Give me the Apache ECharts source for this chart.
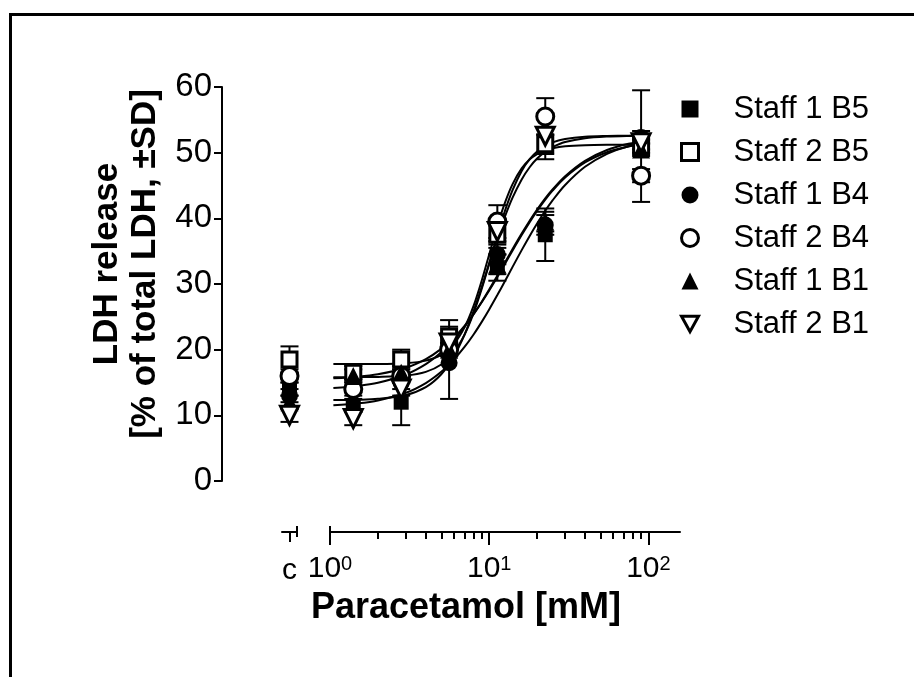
<!DOCTYPE html>
<html>
<head>
<meta charset="utf-8">
<script src="https://cdn.jsdelivr.net/npm/echarts@6/dist/echarts.min.js"></script>
<style>
  html, body { margin: 0; padding: 0; background: #fff; }
  #chart { width: 914px; height: 677px; }
</style>
</head>
<body>
<div id="chart"></div>
<script>
  // concentrations (mM) of the dilution series, plus the control column "c"
  const conc = [1.4, 2.8, 5.6, 11.25, 22.5, 90];
  const ctrlX = 0.5;

  // mean LDH release (% of total) and SD per donor/batch
  const s1b5 = [11.5, 12, 21, 32.5, 37.5, 51];
  const sd1b5 = [1, 3.5, 1.5, 2, 4, 8.5];
  const s2b5 = [16.5, 18.5, 22, 37.5, 51.3, 51];
  const sd2b5 = [1, 1.5, 2.5, 2, 1.5, 1];
  const s1b4 = [14.5, 15, 18, 34.5, 39, 52.3];
  const sd1b4 = [1, 1, 5.5, 1.5, 1.5, 1];
  const s2b4 = [14, 16, 20, 39.5, 55.5, 46.5];
  const sd2b4 = [1, 1, 1, 2.5, 2.8, 1];
  const s1b1 = [16, 16.5, 20, 33, 39.5, 50.5];
  const sd1b1 = [1, 1, 1, 1.5, 1.5, 1];
  const s2b1 = [9.5, 14, 21, 38, 52.5, 51.5];
  const sd2b1 = [1, 1, 1, 1.5, 3.5, 1];

  // control values, same series order as the legend
  const ctrlVals = [14, 18.5, 13, 16, 12, 10];
  const ctrlSd = [1, 2, 1, 1, 1, 1];

  // fitted curves
  const fitX = [1.05, 1.5, 2, 3, 4, 5, 6, 7, 8, 9, 10, 11.25, 12.5, 14, 16, 18, 20, 22.5, 25, 30, 40, 55, 75, 100];
  const fit1b5 = [11.52, 11.83, 12.27, 13.44, 14.92, 16.63, 18.49, 20.41, 22.35, 24.27, 26.12, 28.31, 30.34, 32.57, 35.16, 37.36, 39.22, 41.15, 42.73, 45.08, 47.85, 49.83, 50.97, 51.6];
  const fit2b5 = [17.8, 17.81, 17.82, 17.95, 18.33, 19.22, 20.85, 23.39, 26.75, 30.61, 34.5, 38.82, 42.24, 45.18, 47.61, 48.99, 49.79, 50.35, 50.67, 50.96, 51.13, 51.19, 51.2, 51.2];
  const fit1b4 = [14.15, 14.48, 14.96, 16.22, 17.79, 19.59, 21.51, 23.48, 25.43, 27.33, 29.15, 31.27, 33.2, 35.28, 37.67, 39.67, 41.33, 43.03, 44.4, 46.42, 48.76, 50.41, 51.35, 51.87];
  const fit2b4 = [15.8, 15.82, 15.85, 16.06, 16.62, 17.74, 19.6, 22.27, 25.62, 29.35, 33.12, 37.42, 40.99, 44.26, 47.21, 49.04, 50.18, 51.05, 51.57, 52.09, 52.44, 52.55, 52.59, 52.6];
  const fit1b1 = [15.64, 15.88, 16.25, 17.25, 18.57, 20.12, 21.83, 23.63, 25.45, 27.26, 29.01, 31.07, 32.98, 35.06, 37.45, 39.46, 41.13, 42.84, 44.21, 46.21, 48.5, 50.06, 50.93, 51.39];
  const fit2b1 = [12.33, 12.38, 12.51, 13.1, 14.29, 16.25, 18.96, 22.29, 25.94, 29.63, 33.12, 36.96, 40.13, 43.11, 45.93, 47.82, 49.1, 50.16, 50.85, 51.62, 52.21, 52.46, 52.55, 52.58];

  const xMajor = [1, 10, 100];
  const xMinor = [2, 3, 4, 5, 6, 7, 8, 9, 20, 30, 40, 50, 60, 70, 80, 90];

  const FONT = '"Liberation Sans", Arial, sans-serif';
  const invTri = 'path://M0,0L20,0L10,18Z';

  const groups = [
    { name: 'Staff 1 B5', symbol: 'rect', size: 15, open: false, y: s1b5, sd: sd1b5, fit: fit1b5 },
    { name: 'Staff 2 B5', symbol: 'rect', size: 15, open: true, y: s2b5, sd: sd2b5, fit: fit2b5 },
    { name: 'Staff 1 B4', symbol: 'circle', size: 17, open: false, y: s1b4, sd: sd1b4, fit: fit1b4 },
    { name: 'Staff 2 B4', symbol: 'circle', size: 17, open: true, y: s2b4, sd: sd2b4, fit: fit2b4 },
    { name: 'Staff 1 B1', symbol: 'triangle', size: 18, open: false, y: s1b1, sd: sd1b1, fit: fit1b1 },
    { name: 'Staff 2 B1', symbol: invTri, size: 18, open: true, y: s2b1, sd: sd2b1, fit: fit2b1 }
  ];

  function markStyle(g) {
    return g.open
      ? { color: '#fff', borderColor: '#000', borderWidth: 3, opacity: 1 }
      : { color: '#000', borderColor: '#000', borderWidth: 0, opacity: 1 };
  }

  function errorBar(params, api) {
    const x = api.value(0), y = api.value(1), e = api.value(2);
    const hi = api.coord([x, y + e]);
    const lo = api.coord([x, y - e]);
    const w = 9;
    const st = { stroke: '#000', lineWidth: 2 };
    return {
      type: 'group',
      children: [
        { type: 'line', shape: { x1: hi[0], y1: hi[1], x2: lo[0], y2: lo[1] }, style: st },
        { type: 'line', shape: { x1: hi[0] - w, y1: hi[1], x2: hi[0] + w, y2: hi[1] }, style: st },
        { type: 'line', shape: { x1: lo[0] - w, y1: lo[1], x2: lo[0] + w, y2: lo[1] }, style: st }
      ]
    };
  }

  const series = [];
  // fit curves first (underneath)
  groups.forEach((g, i) => {
    series.push({
      name: 'fit' + i, type: 'line', xAxisIndex: 0, yAxisIndex: 0,
      data: fitX.map((x, k) => [x, g.fit[k]]),
      showSymbol: false, symbol: 'none', smooth: 0.3,
      lineStyle: { color: '#000', width: 2 }, silent: true, z: 2
    });
  });
  groups.forEach((g, i) => {
    series.push({
      name: 'eb' + i, type: 'custom', xAxisIndex: 0, yAxisIndex: 0,
      data: conc.map((x, k) => [x, g.y[k], g.sd[k]]),
      renderItem: errorBar, silent: true, z: 3
    });
    series.push({
      name: 'ebc' + i, type: 'custom', xAxisIndex: 2, yAxisIndex: 1,
      data: [[ctrlX, ctrlVals[i], ctrlSd[i]]],
      renderItem: errorBar, silent: true, z: 3
    });
  });
  groups.forEach((g, i) => {
    series.push({
      name: g.name, type: 'scatter', xAxisIndex: 0, yAxisIndex: 0,
      data: conc.map((x, k) => [x, g.y[k]]),
      symbol: g.symbol, symbolSize: g.size, itemStyle: markStyle(g), z: 4
    });
    series.push({
      name: 'ctrl' + i, type: 'scatter', xAxisIndex: 2, yAxisIndex: 1,
      data: [[ctrlX, ctrlVals[i]]],
      symbol: g.symbol, symbolSize: g.size, itemStyle: markStyle(g), z: 4
    });
  });

  const chart = echarts.init(document.getElementById('chart'));
  const axisLine = { show: true, onZero: false, lineStyle: { color: '#000', width: 2 } };

  chart.setOption({
    animation: false,
    backgroundColor: '#fff',
    grid: [
      { left: 330, top: 87, width: 350, height: 394 },
      { left: 282, top: 87, width: 15, height: 394 }
    ],
    xAxis: [
      {
        gridIndex: 0, type: 'log', logBase: 10, min: 1, max: 158,
        position: 'bottom', offset: 51,
        axisLine: axisLine,
        axisTick: { show: true, customValues: xMajor, length: 13, lineStyle: { color: '#000', width: 2 } },
        minorTick: { show: false },
        splitLine: { show: false },
        axisLabel: {
          customValues: xMajor, margin: 22, color: '#000',
          fontFamily: FONT, fontSize: 30,
          formatter: v => '10{s|' + Math.round(Math.log10(v)) + '}',
          rich: { s: { fontSize: 20, fontFamily: FONT, color: '#000', verticalAlign: 'top', lineHeight: 20, padding: [0, 0, 14, 0] } }
        }
      },
      {
        gridIndex: 0, type: 'log', logBase: 10, min: 1, max: 158,
        position: 'bottom', offset: 51,
        axisLine: { show: false, onZero: false },
        axisTick: { show: true, customValues: xMinor, length: 7, lineStyle: { color: '#000', width: 2 } },
        axisLabel: { show: false },
        splitLine: { show: false }
      },
      {
        gridIndex: 1, type: 'value', min: 0, max: 1,
        position: 'bottom', offset: 51,
        axisLine: axisLine,
        axisTick: { show: true, customValues: [ctrlX], length: 10, lineStyle: { color: '#000', width: 2 } },
        axisLabel: {
          customValues: [ctrlX], margin: 24, color: '#000', fontFamily: FONT, fontSize: 30,
          formatter: () => 'c'
        },
        splitLine: { show: false }
      }
    ],
    yAxis: [
      {
        gridIndex: 0, type: 'value', min: 0, max: 60, interval: 10,
        position: 'left', offset: 108,
        axisLine: axisLine,
        axisTick: { show: true, length: 8, lineStyle: { color: '#000', width: 2 } },
        axisLabel: { margin: 10, color: '#000', fontFamily: FONT, fontSize: 33 },
        splitLine: { show: false }
      },
      {
        gridIndex: 1, type: 'value', min: 0, max: 60, show: false
      }
    ],
    legend: {
      orient: 'vertical', left: 675, top: 88,
      itemWidth: 17, itemHeight: 17, itemGap: 11,
      textStyle: { color: '#000', fontFamily: FONT, fontSize: 31, lineHeight: 32, padding: [0, 0, 0, 30] },
      selectedMode: false,
      data: groups.map(g => ({ name: g.name, icon: g.symbol, itemStyle: markStyle(g) }))
    },
    graphic: [
      { type: 'rect', shape: { x: 10.5, y: 14.5, width: 1000, height: 1000 }, style: { fill: 'none', stroke: '#000', lineWidth: 3 }, silent: true },
      { type: 'line', shape: { x1: 330, y1: 526, x2: 330, y2: 533 }, style: { stroke: '#000', lineWidth: 2 } },
      { type: 'line', shape: { x1: 297, y1: 526, x2: 297, y2: 537 }, style: { stroke: '#000', lineWidth: 2 } },
      {
        type: 'text', x: 126, y: 264, rotation: Math.PI / 2,
        style: {
          text: 'LDH release\n[% of total LDH, ±SD]', fill: '#000',
          font: 'bold 35px ' + FONT, lineHeight: 38, align: 'center', verticalAlign: 'middle'
        }
      },
      {
        type: 'text', x: 466, y: 608,
        style: { text: 'Paracetamol [mM]', fill: '#000', font: 'bold 36px ' + FONT, align: 'center', verticalAlign: 'middle' }
      }
    ],
    series: series
  });
</script>
</body>
</html>
